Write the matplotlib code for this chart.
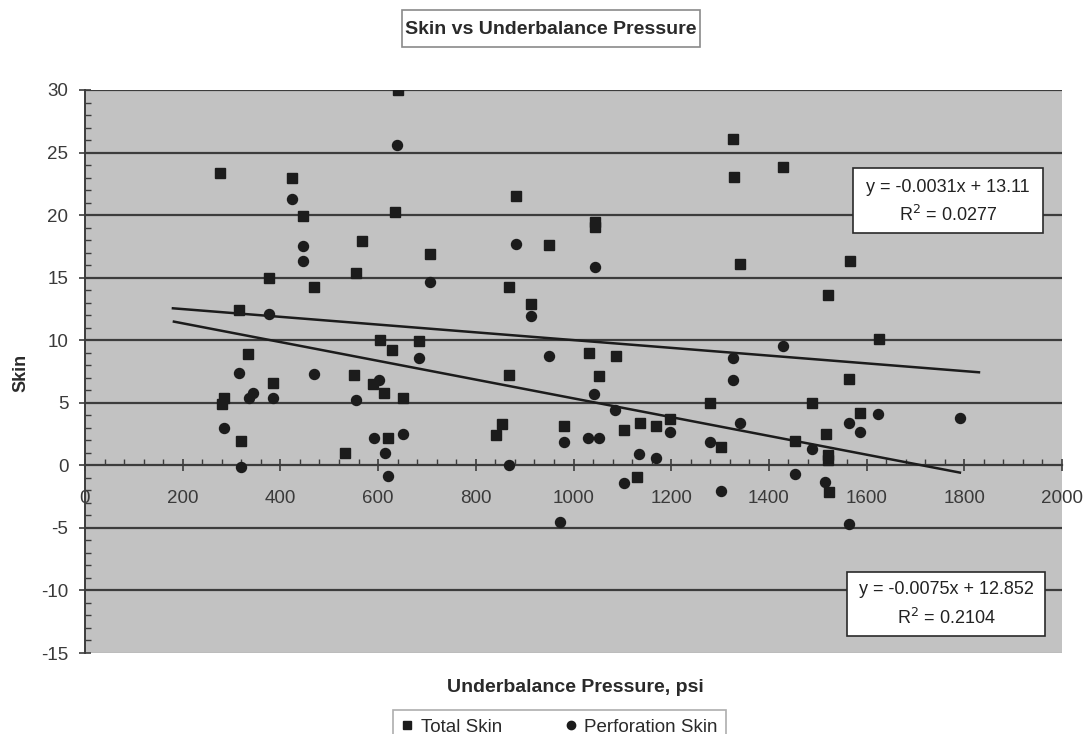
import matplotlib
matplotlib.use("Agg")
import matplotlib.pyplot as plt
from matplotlib.lines import Line2D
from matplotlib.patches import Rectangle
from matplotlib.ticker import MultipleLocator

plt.rcParams['font.family'] = ['Liberation Sans', 'DejaVu Sans']

# Total skin measurements: underbalance pressure (psi) and skin
total_x = [276, 423, 446, 469, 568, 555, 377, 316, 334, 384, 285, 280, 319, 532,
           551, 590, 613, 604, 628, 621, 640, 635, 706, 882, 950, 868, 912, 1043,
           1043, 1327, 1329, 1341, 684, 1032, 1086, 1052, 867, 650, 1279, 853, 841,
           981, 1103, 1136, 1168, 1197, 1301, 1129, 1429, 1565, 1522, 1626, 1564,
           1488, 1587, 1517, 1453, 1522, 1522, 1524]
total_y = [23.4, 23.0, 19.9, 14.25, 17.9, 15.4, 15.0, 12.4, 8.87, 6.58, 5.4, 4.93,
           1.95, 0.98, 7.19, 6.53, 5.78, 10.0, 9.2, 2.18, 30.0, 20.25, 16.87, 21.5,
           17.6, 14.25, 12.9, 19.45, 19.05, 26.1, 23.05, 16.07, 9.94, 9.0, 8.7, 7.11,
           7.19, 5.38, 5.0, 3.33, 2.45, 3.12, 2.8, 3.41, 3.12, 3.7, 1.47, -0.9, 23.85,
           16.3, 13.6, 10.13, 6.93, 5.0, 4.18, 2.5, 1.94, 0.8, 0.4, -2.1]

# Perforation skin measurements
perf_x = [423, 446, 446, 377, 316, 469, 384, 336, 343, 285, 319, 555, 602, 592, 614,
          621, 638, 706, 882, 912, 1043, 684, 950, 1042, 1085, 1327, 1327, 1341, 981,
          1030, 1052, 650, 868, 1197, 1135, 1168, 1103, 1279, 1429, 1624, 1791, 1564,
          1587, 1488, 1453, 1515, 1564, 972, 1301]
perf_y = [21.3, 17.5, 16.3, 12.07, 7.4, 7.3, 5.4, 5.4, 5.78, 2.98, -0.13, 5.2, 6.8,
          2.21, 0.95, -0.85, 25.6, 14.66, 17.7, 11.9, 15.85, 8.6, 8.7, 5.67, 4.4, 8.6,
          6.85, 3.4, 1.87, 2.18, 2.18, 2.48, 0.0, 2.66, 0.9, 0.6, -1.4, 1.87, 9.5,
          4.13, 3.78, 3.41, 2.66, 1.3, -0.67, -1.3, -4.66, -4.53, -2.08]

# Linear trendlines (slope, intercept, R^2, x-range drawn)
total_fit = (-0.0031, 13.11, 0.0277, (180, 1830))
perf_fit = (-0.0075, 12.852, 0.2104, (182, 1791))

series_labels = ["Total Skin", "Perforation Skin"]
x_ticks = [0, 200, 400, 600, 800, 1000, 1200, 1400, 1600, 1800, 2000]
y_ticks = [-15, -10, -5, 0, 5, 10, 15, 20, 25, 30]

W, H = 1084, 734
fig = plt.figure(figsize=(W / 100, H / 100), dpi=100)
ax = fig.add_axes([85 / W, 1 - 653 / H, (1062 - 85) / W, (653 - 90) / H])
ax.set_facecolor('#c2c2c2')

ink = '#1c1c1c'
grid_c = '#3c3c3c'
txt_c = '#3a3a3a'

ax.set_xlim(0, 2000)
ax.set_ylim(-15, 30)

for yv in y_ticks:
    if yv in (0, -15):
        continue
    ax.axhline(yv, color=grid_c, lw=1.6, zorder=1)
ax.axhline(-15, color='#a8a8a8', lw=1.0, zorder=1)

# Trendlines
for slope, icpt, _, (x0, x1) in (total_fit, perf_fit):
    xs = [x0, x1]
    ax.plot(xs, [slope * v + icpt for v in xs], color=ink, lw=1.8, zorder=3)

ax.plot(total_x, total_y, ls='none', marker='s', ms=7.2, color=ink,
        mec=ink, zorder=4)
ax.plot(perf_x, perf_y, ls='none', marker='o', ms=7.2, color=ink,
        mec=ink, zorder=4)

# Axis styling: x axis crosses at zero
for s in ('top', 'right'):
    ax.spines[s].set_visible(False)
ax.spines['bottom'].set_position(('data', 0))
ax.spines['bottom'].set_color(grid_c)
ax.spines['bottom'].set_linewidth(1.6)
ax.spines['left'].set_color(grid_c)
ax.spines['left'].set_linewidth(1.4)
ax.spines['bottom'].set_zorder(2)

ax.set_xticks(x_ticks)
ax.set_yticks(y_ticks)
ax.xaxis.set_minor_locator(MultipleLocator(40))
ax.yaxis.set_minor_locator(MultipleLocator(1))
ax.tick_params(axis='x', which='major', direction='inout', length=9, width=1.2,
               color=grid_c, labelsize=13.5, labelcolor=txt_c, pad=13)
ax.tick_params(axis='x', which='minor', direction='in', length=4, width=1.0,
               color=grid_c)
ax.tick_params(axis='y', which='major', direction='inout', length=8, width=1.2,
               color=grid_c, labelsize=13.5, labelcolor=txt_c, pad=8)
ax.tick_params(axis='y', which='minor', direction='in', length=4, width=1.0,
               color=grid_c)
ax.set_xticklabels([str(v) for v in x_ticks])
ax.set_yticklabels([str(v) for v in y_ticks])

# Title in a framed box
fig.patches.append(Rectangle((402 / W, 1 - 47 / H), (700 - 402) / W, 37 / H,
                             transform=fig.transFigure, fc='white', ec='#8a8a8a',
                             lw=1.2))
fig.text(551 / W, 1 - 29 / H, "Skin vs Underbalance Pressure", ha='center',
         va='center', fontsize=14, fontweight='bold', color='#2a2a2a')

fig.text(21 / W, 1 - 373 / H, "Skin", rotation=90, ha='center', va='center',
         fontsize=13, fontweight='bold', color='#2a2a2a')
fig.text(575 / W, 1 - 688 / H, "Underbalance Pressure, psi", ha='center',
         va='center', fontsize=14, fontweight='bold', color='#2a2a2a')

# Trendline equation boxes
def eq_box(fit, left, right, top, bottom, l1y, l2y):
    slope, icpt, r2, _ = fit
    fig.patches.append(Rectangle((left / W, 1 - bottom / H), (right - left) / W,
                                 (bottom - top) / H, transform=fig.transFigure,
                                 fc='white', ec='#2a2a2a', lw=1.2, zorder=5))
    cx = (left + right) / 2 / W
    fig.text(cx, 1 - l1y / H, f"y = {slope:g}x + {icpt:g}", ha='center',
             va='center', fontsize=13, color='#222222', zorder=6)
    fig.text(cx, 1 - l2y / H, f"R$^2$ = {r2:g}", ha='center', va='center',
             fontsize=13, color='#222222', zorder=6)

eq_box(total_fit, 853, 1043, 168, 233, 188, 215)
eq_box(perf_fit, 847, 1045, 572, 636, 590, 618)

handles = [Line2D([], [], ls='none', marker='s', ms=6, color=ink),
           Line2D([], [], ls='none', marker='o', ms=6, color=ink)]
leg = fig.legend(handles, series_labels, loc='upper left',
                 bbox_to_anchor=(384 / W, 1 - 701 / H), ncol=2, fontsize=13.5,
                 frameon=True, fancybox=False, edgecolor='#9a9a9a',
                 handlelength=0.6, handletextpad=0.4, columnspacing=3.4,
                 borderpad=0.45)
leg.get_frame().set_linewidth(1.2)
for t in leg.get_texts():
    t.set_color('#2a2a2a')

fig.savefig('out.png', dpi=100, facecolor='white')
